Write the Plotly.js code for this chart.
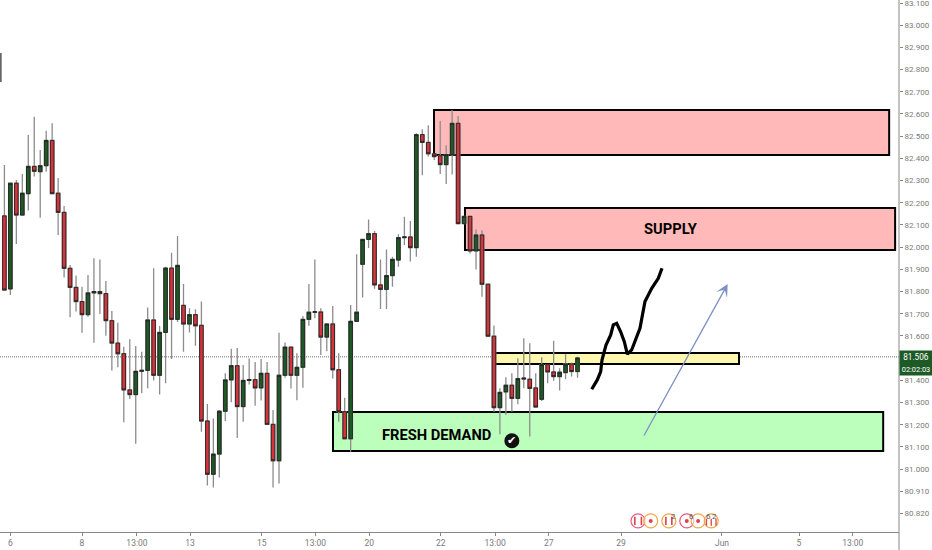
<!DOCTYPE html>
<html><head><meta charset="utf-8">
<script src="https://cdn.plot.ly/plotly-3.0.1.min.js"></script>
<style>html,body{margin:0;padding:0;background:#fff}#c{width:932px;height:550px}</style>
</head><body><div id="c"></div>
<script>
// candle rows: high, bodyTop, bodyBottom, low, direction (1 up, -1 down)
const highs=[82.370,82.288,82.303,82.330,82.505,82.588,82.438,82.525,82.558,82.312,82.186,81.920,81.872,81.822,81.875,81.950,81.945,81.848,81.713,81.660,81.552,81.585,81.555,81.529,81.728,81.905,81.645,81.912,81.975,82.050,81.834,81.725,81.720,81.755,81.294,81.228,81.267,81.432,81.543,81.546,81.469,81.499,81.483,81.496,81.483,81.267,81.615,81.571,81.552,81.522,81.690,81.834,81.945,81.725,81.654,81.735,81.522,81.322,81.740,81.968,82.035,82.125,82.073,81.945,81.990,81.957,82.058,82.137,82.118,82.513,82.531,82.549,82.421,82.568,82.459,82.618,82.591,82.142,82.139,82.080,82.076,81.833,81.647,81.364,81.414,81.432,81.500,81.590,81.567,81.432,81.504,81.471,81.579,81.455,81.518,81.480,81.507];
const tops=[82.141,82.288,82.288,82.243,82.364,82.364,82.367,82.481,82.481,82.243,82.157,81.905,81.819,81.755,81.794,81.800,81.800,81.791,81.669,81.568,81.520,81.357,81.441,81.445,81.672,81.672,81.616,81.906,81.906,81.918,81.738,81.696,81.696,81.648,81.217,81.068,81.261,81.402,81.466,81.466,81.400,81.403,81.403,81.432,81.432,81.202,81.423,81.550,81.550,81.459,81.675,81.707,81.709,81.708,81.654,81.654,81.448,81.259,81.666,81.707,82.035,82.061,82.061,81.830,81.872,81.945,82.043,82.046,82.046,82.507,82.507,82.472,82.421,82.412,82.417,82.558,82.558,82.139,82.139,82.055,82.055,81.833,81.599,81.346,81.378,81.378,81.408,81.410,81.405,81.366,81.471,81.471,81.438,81.437,81.474,81.473,81.501];
const bottoms=[81.807,81.812,82.145,82.145,82.241,82.342,82.340,82.367,82.241,82.157,81.905,81.819,81.755,81.696,81.696,81.794,81.791,81.669,81.568,81.520,81.357,81.336,81.336,81.441,81.445,81.423,81.423,81.616,81.675,81.675,81.654,81.654,81.646,81.217,80.977,80.977,81.068,81.261,81.402,81.282,81.282,81.400,81.366,81.366,81.202,81.038,81.038,81.423,81.423,81.423,81.459,81.675,81.707,81.595,81.595,81.448,81.259,81.137,81.137,81.666,81.923,82.035,81.830,81.810,81.810,81.872,81.942,82.043,81.998,81.998,82.472,82.421,82.408,82.372,82.372,82.417,82.106,82.106,81.983,81.983,81.833,81.599,81.277,81.277,81.348,81.319,81.319,81.406,81.364,81.280,81.315,81.438,81.417,81.417,81.435,81.440,81.440];
const lows=[81.807,81.785,82.014,82.145,82.165,82.318,82.133,82.340,82.241,82.055,81.864,81.684,81.710,81.615,81.687,81.570,81.699,81.601,81.445,81.459,81.211,81.316,81.115,81.342,81.364,81.399,81.336,81.387,81.496,81.663,81.529,81.616,81.556,81.169,80.926,80.918,80.963,81.217,81.301,81.140,81.214,81.382,81.286,81.309,81.202,80.917,80.936,81.412,81.363,81.310,81.367,81.646,81.680,81.514,81.531,81.408,81.214,81.134,81.079,81.664,81.773,81.996,81.813,81.722,81.722,81.822,81.912,82.010,81.935,81.957,82.324,82.408,82.393,82.330,82.285,82.327,82.106,82.105,81.972,81.900,81.777,81.599,81.259,81.157,81.244,81.259,81.292,81.364,81.147,81.280,81.307,81.387,81.398,81.354,81.405,81.417,81.412];
const dirs=[-1,1,-1,1,1,-1,1,1,-1,-1,-1,-1,-1,-1,1,1,-1,-1,-1,-1,-1,-1,1,1,1,-1,1,1,-1,1,-1,1,-1,-1,-1,1,1,1,1,-1,1,1,-1,1,-1,-1,1,1,-1,1,1,1,1,-1,1,-1,-1,-1,1,1,1,1,-1,-1,1,1,1,1,-1,1,-1,-1,-1,-1,1,1,-1,1,-1,1,-1,-1,-1,1,1,-1,1,1,-1,-1,1,-1,-1,1,1,-1,1];
const priceTicks=[83.1,83.0,82.9,82.8,82.7,82.6,82.5,82.4,82.3,82.2,82.1,82.0,81.9,81.8,81.7,81.6,81.4,81.3,81.2,81.1,81.0,80.9,80.8];
const priceLabels=['83.100','83.000','82.900','82.800','82.700','82.600','82.500','82.400','82.300','82.200','82.100','82.000','81.900','81.800','81.700','81.600','81.400','81.300','81.200','81.100','81.000','80.910','80.820'];
const timeTicks=[1,13,22.2,31.1,43.1,52.1,61.1,73.1,82.2,91.2,103.3,120.2,133.1,142.1];
const timeLabels=['6','8','13:00','13','15','13:00','20','22','13:00','27','29','Jun','5','13:00'];
const sketchX=[98.38,99.31,99.88,100.10,100.77,101.56,101.99,102.56,103.23,103.84,104.34,105.07,106.46,107.30,108.43,109.53,110.15];
const sketchY=[81.360,81.402,81.439,81.492,81.559,81.605,81.650,81.657,81.619,81.574,81.518,81.537,81.635,81.755,81.815,81.860,81.905];
const lastPrice=81.506;
const zones=[
 {x0:71.96,x1:148.2,y0:82.415,y1:82.618,fill:'#ffb9b9'},
 {x0:77.15,x1:149.2,y0:81.987,y1:82.177,fill:'#ffb9b9'},
 {x0:55.04,x1:147.2,y0:81.082,y1:81.258,fill:'#bcffbc'},
 {x0:82.2,x1:123.05,y0:81.474,y1:81.523,fill:'#fdf8ae'}
];
const eventX=[106.13,108.26,111.3,114.3,116.2,118.4];
const eventColors=['#ec5a82','#f3a64a','#f3a64a','#ec5a82','#f3a64a','#f3a64a'];
const eventDotX=[108.26,114.3,116.2];
const flagX=[105.6,106.7,110.8,111.8];
const smallMarkX=[117.6,118.4,119.2];
const eventY=80.767;

const idx=highs.map((_,i)=>i);
const GREEN='#1d5a26', RED='#d5343c', DARK='#23201f', WICK='#8c8c8c', FLAG='#e0404a', FN='Roboto, Arial';
const opens=idx.map(i=>dirs[i]>0?bottoms[i]:tops[i]);
const closes=idx.map(i=>dirs[i]>0?tops[i]:bottoms[i]);
const traces=[
 {type:'candlestick',x:idx,open:opens,high:highs,low:lows,close:closes,whiskerwidth:0,
  increasing:{line:{color:WICK,width:1.3},fillcolor:WICK},decreasing:{line:{color:WICK,width:1.3},fillcolor:WICK},hoverinfo:'skip'},
 {type:'candlestick',x:idx,open:opens,high:idx.map(i=>Math.max(opens[i],closes[i])),low:idx.map(i=>Math.min(opens[i],closes[i])),close:closes,whiskerwidth:0,
  increasing:{line:{color:DARK,width:0.9},fillcolor:GREEN},decreasing:{line:{color:DARK,width:0.9},fillcolor:RED},hoverinfo:'skip'},
 {type:'scatter',mode:'lines',x:sketchX,y:sketchY,line:{color:'#000',width:3.2,shape:'linear',simplify:false},hoverinfo:'skip'},
 {type:'scatter',mode:'markers',x:[85.0],y:[81.128],marker:{color:'#111',size:15},hoverinfo:'skip'},
 {type:'scatter',mode:'markers',x:eventX,y:eventX.map(()=>eventY),marker:{size:14,color:'rgba(255,255,255,0.55)',line:{color:eventColors,width:1.2}},hoverinfo:'skip'},
 {type:'scatter',mode:'markers',x:eventDotX,y:eventDotX.map(()=>eventY),marker:{size:4,color:FLAG},hoverinfo:'skip'},
 {type:'scatter',mode:'markers',x:flagX,y:flagX.map(()=>eventY),marker:{symbol:'line-ns',size:6,line:{color:FLAG,width:1.6}},hoverinfo:'skip'},
 {type:'scatter',mode:'markers',x:smallMarkX,y:smallMarkX.map(()=>eventY-0.006),marker:{symbol:'line-ns',size:5,line:{color:FLAG,width:1.3}},hoverinfo:'skip'}
];
const shapes=zones.map(z=>({type:'rect',layer:'below',xref:'x',yref:'y',x0:z.x0,x1:z.x1,y0:z.y0,y1:z.y1,fillcolor:z.fill,line:{color:'#000',width:2}}));
shapes.push({type:'line',layer:'below',xref:'paper',yref:'y',x0:0,x1:1,y0:lastPrice,y1:lastPrice,line:{color:'#333',width:0.7,dash:'1px,1px'}});
shapes.push({type:'line',xref:'x',yref:'y',x0:-0.62,x1:-0.62,y0:82.875,y1:82.744,line:{color:'#666',width:2}});
shapes.push({type:'line',xref:'paper',yref:'paper',x0:1,x1:1,y0:-0.04,y1:1,line:{color:'#888',width:1}});
const annotations=[
 {xref:'x',yref:'y',x:111.7,y:82.082,text:'SUPPLY',showarrow:false,font:{family:'Roboto, Arial',size:14.7,color:'#000',weight:'bold'}},
 {xref:'x',yref:'y',x:72.4,y:81.154,text:'FRESH DEMAND',showarrow:false,font:{family:'Roboto, Arial',size:14.7,color:'#000',weight:'bold'}},
 {xref:'x',yref:'y',x:85.0,y:81.128,text:'✔',showarrow:false,font:{family:'DejaVu Sans',size:11,color:'#fff'}},
 {xref:'x',yref:'y',axref:'x',ayref:'y',x:121.15,y:81.834,ax:107,ay:81.145,text:'',showarrow:true,arrowhead:3,arrowsize:1.6,arrowwidth:1.3,arrowcolor:'#7d90c4'},
 {xref:'paper',yref:'y',x:1,xanchor:'left',xshift:0,y:lastPrice,text:'81.506',showarrow:false,width:32,height:12,borderpad:0,bgcolor:GREEN,font:{family:FN,size:8.2,color:'#fff'}},
 {xref:'paper',yref:'y',x:1,xanchor:'left',xshift:0,y:lastPrice,yshift:-12,text:'02:02:03',showarrow:false,width:32,height:12,borderpad:0,bgcolor:GREEN,font:{family:FN,size:7.4,color:'#fff'}},
 {xref:'x',yref:'y',x:112.0,y:80.789,text:'2',showarrow:false,font:{family:FN,size:8,color:'#555'}},
 {xref:'x',yref:'y',x:115.1,y:80.789,text:'6',showarrow:false,font:{family:FN,size:8,color:'#555'}},
 {xref:'x',yref:'y',x:118.0,y:80.789,text:'6',showarrow:false,font:{family:FN,size:8,color:'#555'}},
 {xref:'x',yref:'y',x:119.0,y:80.789,text:'2',showarrow:false,font:{family:FN,size:8,color:'#555'}}
];
const layout={
 width:932,height:550,showlegend:false,paper_bgcolor:'#fff',plot_bgcolor:'#fff',
 margin:{l:0,r:33,t:0,b:18},boxgap:0.15,
 font:{family:FN,size:8,color:'#7a7a7a'},
 xaxis:{range:[-0.737,149.85],type:'linear',rangeslider:{visible:false},tickmode:'array',tickvals:timeTicks,ticktext:timeLabels,ticks:'outside',ticklen:3,tickcolor:'#888',showline:true,linecolor:'#888',linewidth:1,showgrid:false,zeroline:false,tickfont:{size:8.5,color:'#7a7a7a'}},
 yaxis:{range:[80.717,83.1135],side:'right',tickmode:'array',tickvals:priceTicks,ticktext:priceLabels,ticks:'outside',ticklen:3,tickcolor:'#888',showline:false,showgrid:false,zeroline:false,ticklabeloverflow:'allow',tickfont:{size:8,color:'#7a7a7a'}},
 shapes,annotations
};
Plotly.newPlot('c',traces,layout,{displayModeBar:false,staticPlot:true});
</script></body></html>
